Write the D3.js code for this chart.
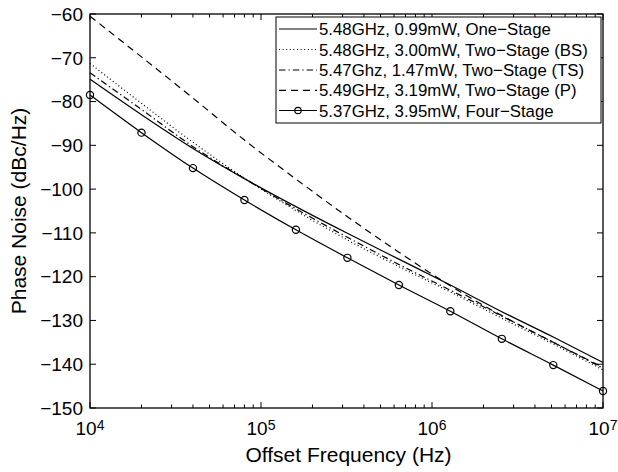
<!DOCTYPE html>
<html><head><meta charset="utf-8">
<script src="https://cdn.jsdelivr.net/npm/d3@7"></script>
<style>
html,body{margin:0;padding:0;background:#fff;}
svg{display:block;font-family:"Liberation Sans",Arial,Helvetica,sans-serif;}
</style></head>
<body>
<svg id="chart" width="618" height="472"></svg>
<script>
// ---- data ----
const freqs = [1e4, 2e4, 4e4, 8e4, 1.6e5, 3.2e5, 6.4e5, 1.28e6, 2.56e6, 5.12e6, 1e7];
const oneStage   = [-74.9, -83.0, -90.7, -97.6, -104.0, -110.1, -116.0, -121.9, -128.0, -133.8, -139.6];
const twoStageBS = [-71.3, -80.4, -89.3, -97.5, -104.9, -111.6, -117.7, -123.5, -129.5, -135.4, -141.3];
const twoStageTS = [-73.4, -81.8, -90.3, -97.6, -104.5, -111.0, -117.2, -123.1, -129.0, -135.0, -140.9];
const twoStageP  = [-60.5, -69.8, -79.2, -88.8, -97.7, -106.3, -114.4, -122.1, -128.9, -135.0, -140.7];
const fourStage  = [-78.5, -87.1, -95.2, -102.5, -109.3, -115.7, -121.9, -127.9, -134.2, -140.2, -146.1];
const legendLabels = [
  "5.48GHz, 0.99mW, One\u2212Stage",
  "5.48GHz, 3.00mW, Two\u2212Stage (BS)",
  "5.47Ghz, 1.47mW, Two\u2212Stage (TS)",
  "5.49GHz, 3.19mW, Two\u2212Stage (P)",
  "5.37GHz, 3.95mW, Four\u2212Stage"
];
const yTicks = [-60, -70, -80, -90, -100, -110, -120, -130, -140, -150];
const xMajor = [1e4, 1e5, 1e6, 1e7];
const xExponents = ["4", "5", "6", "7"];
const xLabel = "Offset Frequency (Hz)";
const yLabel = "Phase Noise (dBc/Hz)";

const seriesList = [
  {vals: oneStage,   dash: null,         marker: false},
  {vals: twoStageBS, dash: "1,2.6",      marker: false},
  {vals: twoStageTS, dash: "6.5,3,1.3,3", marker: false},
  {vals: twoStageP,  dash: "7,5",        marker: false},
  {vals: fourStage,  dash: null,         marker: true}
];

// ---- layout ----
const L = 90, R = 603, T = 14, B = 408;
const svg = d3.select("#chart");
const x = d3.scaleLog().domain([1e4, 1e7]).range([L, R]);
const y = d3.scaleLinear().domain([-150, -60]).range([B, T]);

// lines
const line = d3.line().x((d,i)=>x(freqs[i])).y(d=>y(d)).curve(d3.curveMonotoneX);
const g = svg.append("g");
seriesList.forEach(s => {
  g.append("path").attr("d", line(s.vals)).attr("fill","none")
   .attr("stroke","#000").attr("stroke-width",1.2)
   .attr("stroke-dasharray", s.dash);
  if (s.marker) {
    g.selectAll(null).data(s.vals).enter().append("circle")
      .attr("cx",(d,i)=>x(freqs[i])).attr("cy",d=>y(d)).attr("r",3.6)
      .attr("fill","none").attr("stroke","#000").attr("stroke-width",1.2);
  }
});

// ticks (inward, all sides)
const tk = svg.append("g").attr("stroke","#000").attr("stroke-width",1);
yTicks.forEach(v => {
  tk.append("line").attr("x1",L).attr("x2",L+6).attr("y1",y(v)).attr("y2",y(v));
  tk.append("line").attr("x1",R).attr("x2",R-6).attr("y1",y(v)).attr("y2",y(v));
});
const minor = [];
for (let e = 4; e < 7; e++) for (let k = 2; k <= 9; k++) minor.push(k*Math.pow(10,e));
xMajor.forEach(v => {
  tk.append("line").attr("x1",x(v)).attr("x2",x(v)).attr("y1",B).attr("y2",B-6);
  tk.append("line").attr("x1",x(v)).attr("x2",x(v)).attr("y1",T).attr("y2",T+6);
});
minor.forEach(v => {
  tk.append("line").attr("x1",x(v)).attr("x2",x(v)).attr("y1",B).attr("y2",B-3.5);
  tk.append("line").attr("x1",x(v)).attr("x2",x(v)).attr("y1",T).attr("y2",T+3.5);
});

// box
svg.append("rect").attr("x",L).attr("y",T).attr("width",R-L).attr("height",B-T)
  .attr("fill","none").attr("stroke","#000").attr("stroke-width",1.3);

// y tick labels
svg.append("g").selectAll("text").data(yTicks).enter().append("text")
  .attr("x",L-7).attr("y",d=>y(d)+6.8).attr("text-anchor","end")
  .attr("font-size",19).text(d=>d3.format("d")(d).replace("-","\u2212"));

// x tick labels with superscripts
xMajor.forEach((v,i) => {
  const t = svg.append("text").attr("x",x(v)).attr("y",435).attr("text-anchor","middle")
    .attr("font-size",19);
  t.append("tspan").text("10");
  t.append("tspan").attr("dy",-5).attr("font-size",14).text(xExponents[i]);
});

// axis labels
svg.append("text").attr("x",(L+R)/2+2).attr("y",462).attr("text-anchor","middle")
  .attr("font-size",21).text(xLabel);
svg.append("text").attr("transform",`translate(26,${(T+B)/2}) rotate(-90)`)
  .attr("text-anchor","middle").attr("font-size",21).text(yLabel);

// legend
const lg = svg.append("g");
lg.append("rect").attr("x",276).attr("y",17).attr("width",325).attr("height",106)
  .attr("fill","#fff").attr("stroke","#000").attr("stroke-width",1);
const rowY = [29, 49.5, 70, 90.3, 110.5];
seriesList.forEach((s,i) => {
  lg.append("line").attr("x1",279).attr("x2",317).attr("y1",rowY[i]).attr("y2",rowY[i])
    .attr("stroke","#000").attr("stroke-width",1.2).attr("stroke-dasharray", s.dash);
  if (s.marker) lg.append("circle").attr("cx",298).attr("cy",rowY[i]).attr("r",3.2)
    .attr("fill","none").attr("stroke","#000").attr("stroke-width",1.2);
  lg.append("text").attr("x",319).attr("y",rowY[i]+6).attr("font-size",16.8)
    .text(legendLabels[i]);
});
</script>
</body></html>
